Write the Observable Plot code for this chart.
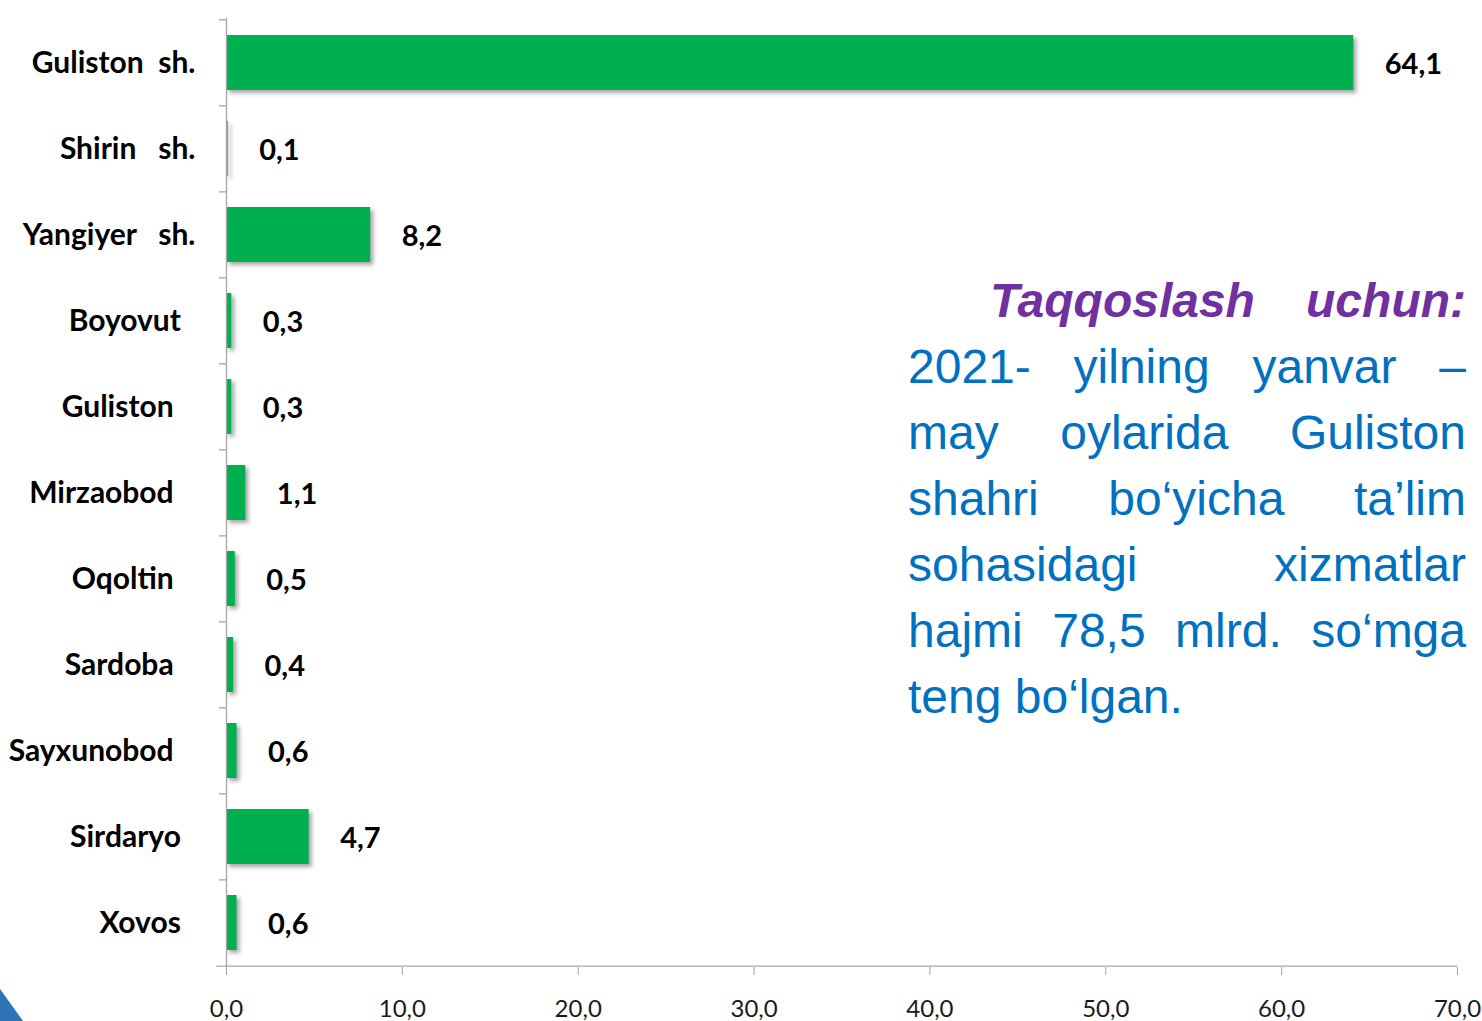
<!DOCTYPE html>
<html>
<head>
<meta charset="utf-8">
<script src="https://cdn.jsdelivr.net/npm/d3@7"></script>
<script src="https://cdn.jsdelivr.net/npm/@observablehq/plot@0.6"></script>
<style>
  html, body { margin: 0; padding: 0; background: #fff; }
  #wrap { position: relative; width: 1482px; height: 1021px; overflow: hidden; }
  #chart svg { white-space: pre; }
  #note { position: absolute; left: 908px; top: 268px; width: 558px;
    font-family: "Liberation Sans", Arial, sans-serif; font-size: 48px; line-height: 66px; color: #0070C0; }
  #note .ln { text-align: justify; text-align-last: justify; white-space: nowrap; }
  #note .ln.last { text-align-last: left; }
  #note .head { color: #7030A0; font-weight: bold; font-style: italic; padding-left: 82px; }
  #corner { position: absolute; left: 0; top: 0; pointer-events: none; }
</style>
</head>
<body>
<div id="wrap">
  <div id="chart"></div>
  <div id="note"></div>
  <svg id="corner" width="1482" height="1021"><polygon points="0,989 0,1021 23,1021" fill="#2E75B6"/></svg>
</div>
<script>
const categories = ["Guliston  sh.", "Shirin   sh.", "Yangiyer   sh.", "Boyovut  ", "Guliston   ", "Mirzaobod   ", "Oqoltin   ", "Sardoba   ", "Sayxunobod   ", "Sirdaryo  ", "Xovos  "];
const values = [64.1, 0.1, 8.2, 0.3, 0.3, 1.1, 0.5, 0.4, 0.6, 4.7, 0.6];
const xTicks = [0, 10, 20, 30, 40, 50, 60, 70];
const noteHead = "Taqqoslash uchun:";
const noteLines = ["2021- yilning yanvar –", "may oylarida Guliston", "shahri bo‘yicha ta’lim", "sohasidagi xizmatlar", "hajmi 78,5 mlrd. so‘mga", "teng bo‘lgan."];

const data = categories.map((c, i) => ({cat: c, v: values[i]}));
const fmt = d => d.toFixed(1).replace(".", ",");

const W = 1482, H = 1021, mL = 226, mR = 25, mT = 18, mB = 54;
const step = (H - mT - mB) / categories.length;

const chart = Plot.plot({
  width: W, height: H,
  marginLeft: mL, marginRight: mR, marginTop: mT, marginBottom: mB,
  style: {fontFamily: "Lato, 'Open Sans', sans-serif", background: "transparent", overflow: "visible"},
  x: {domain: [0, 70], axis: null, label: null},
  y: {domain: categories, paddingInner: 0.36, paddingOuter: 0.18, axis: null},
  marks: [
    Plot.barX(data, {x: "v", y: "cat", fill: "#00B050"}),
    Plot.ruleX([0], {stroke: "#a6a6a6", strokeWidth: 1.3}),
    Plot.ruleY(categories, {y: d => d, x1: -0.4, x2: 0, dy: -step / 2, stroke: "#a6a6a6", strokeWidth: 1.3}),
    Plot.ruleY([categories[categories.length - 1]], {y: d => d, x1: -0.55, x2: 70, dy: step / 2, stroke: "#a6a6a6", strokeWidth: 1.3}),
    Plot.axisX({ticks: xTicks, tickFormat: fmt, label: null, tickSize: 8, tickPadding: 24, stroke: "#a6a6a6", color: "#1a1a1a", fontSize: 24, fontFamily: "Lato, sans-serif", tickStrokeWidth: 1.3}),
    Plot.text(data, {x: 0, y: "cat", text: "cat", textAnchor: "end", dx: -31, fontSize: 30, fontWeight: "bold", fill: "#000"}),
    Plot.text(data, {x: "v", y: "cat", text: d => fmt(d.v), textAnchor: "start", dx: 31, dy: 2, fontSize: 29, fontWeight: "bold", fill: "#000"})
  ]
});
document.getElementById("chart").append(chart);
const bars = chart.querySelector('g[aria-label="bar"]');
if (bars) bars.style.filter = "drop-shadow(3px 3px 2px rgba(0,0,0,0.35))";

const note = document.getElementById("note");
const h = document.createElement("div");
h.className = "ln head"; h.textContent = noteHead; note.append(h);
noteLines.forEach((t, i) => {
  const d = document.createElement("div");
  d.className = "ln" + (i === noteLines.length - 1 ? " last" : "");
  d.textContent = t; note.append(d);
});
</script>
</body>
</html>
